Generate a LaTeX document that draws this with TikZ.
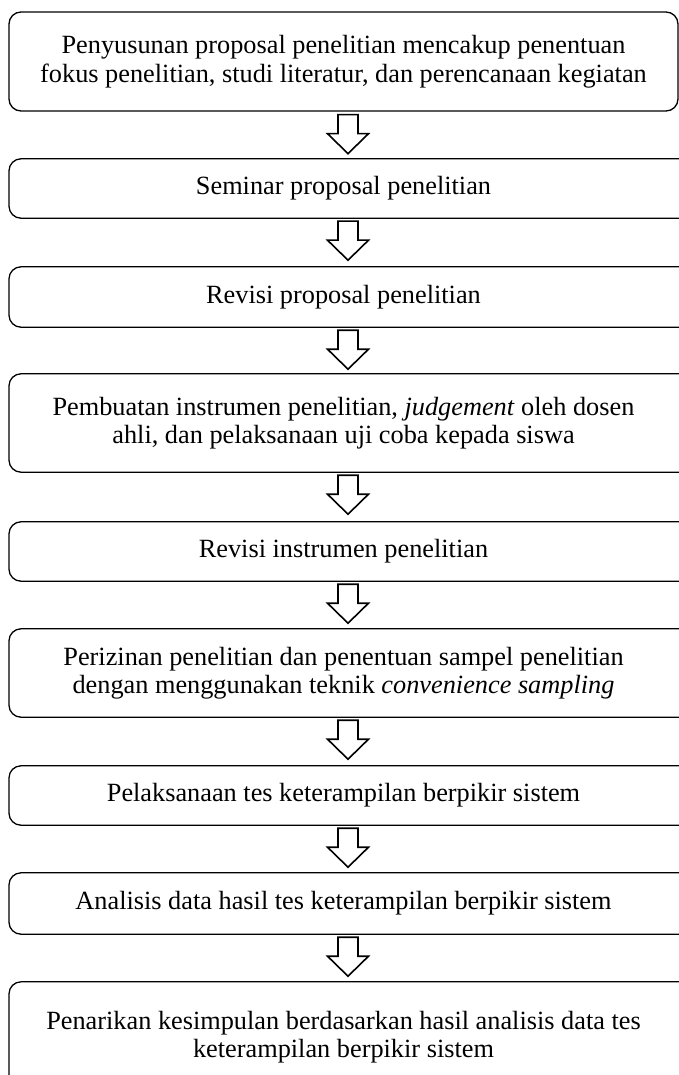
\documentclass[tikz,border=0pt]{standalone}
\usepackage{fontspec}
\setmainfont{Liberation Serif}
\usetikzlibrary{calc}
\newcommand{\blockdown}[1]{\draw[flowarrow] ($(#1.south)+(-5.5,3)$) -- ++(20,0) -- ++(0,19) -- ++(10.5,0) -- ++(-20.5,20) -- ++(-20.5,-20) -- ++(10.5,0) -- cycle;}
\begin{document}
\begin{tikzpicture}[x=1pt,y=-1pt,
  boxtext/.style={align=center, inner sep=0pt, minimum width=669pt, font=\fontsize{26.3}{28.5}\selectfont},
  frame/.style={draw=black, line width=1.3pt, rounded corners=12pt},
  flowarrow/.style={draw=black, fill=white, line width=1.6pt, line join=miter}]
\useasboundingbox (0,0) rectangle (679,1075);
\begin{scope}
\clip (0,0) rectangle (679,1075);
\coordinate (L) at (9,0);
\coordinate (R) at (700,0);
\node[boxtext, draw=black, line width=1.3pt, rounded corners=12pt, minimum height=99pt] (b1) at (343.5,61.5) {Penyusunan proposal penelitian mencakup penentuan\\fokus penelitian, studi literatur, dan perencanaan kegiatan};
\node[boxtext, minimum height=59pt] (b2) at (343.5,188.5) {Seminar proposal penelitian};
\node[boxtext, minimum height=60pt] (b3) at (343.5,297) {Revisi proposal penelitian};
\node[boxtext, minimum height=98pt] (b4) at (343.5,423) {Pembuatan instrumen penelitian, \textit{judgement} oleh dosen\\ahli, dan pelaksanaan uji coba kepada siswa};
\node[boxtext, minimum height=59pt] (b5) at (343.5,551.5) {Revisi instrumen penelitian};
\node[boxtext, minimum height=88pt] (b6) at (343.5,673) {Perizinan penelitian dan penentuan sampel penelitian\\dengan menggunakan teknik \textit{convenience sampling}};
\node[boxtext, minimum height=59pt] (b7) at (343.5,795.5) {Pelaksanaan tes keterampilan berpikir sistem};
\node[boxtext, minimum height=61pt] (b8) at (343.5,903.5) {Analisis data hasil tes keterampilan berpikir sistem};
\node[boxtext, minimum height=110pt] (b9) at (343.5,1037) {Penarikan kesimpulan berdasarkan hasil analisis data tes\\keterampilan berpikir sistem};
\foreach \n in {b2,b3,b4,b5,b6,b7,b8,b9}
  \draw[frame] (\n.north -| L) rectangle (\n.south -| R);
\blockdown{b1}
\blockdown{b2}
\blockdown{b3}
\blockdown{b4}
\blockdown{b5}
\blockdown{b6}
\blockdown{b7}
\blockdown{b8}
\end{scope}
\end{tikzpicture}
\end{document}
